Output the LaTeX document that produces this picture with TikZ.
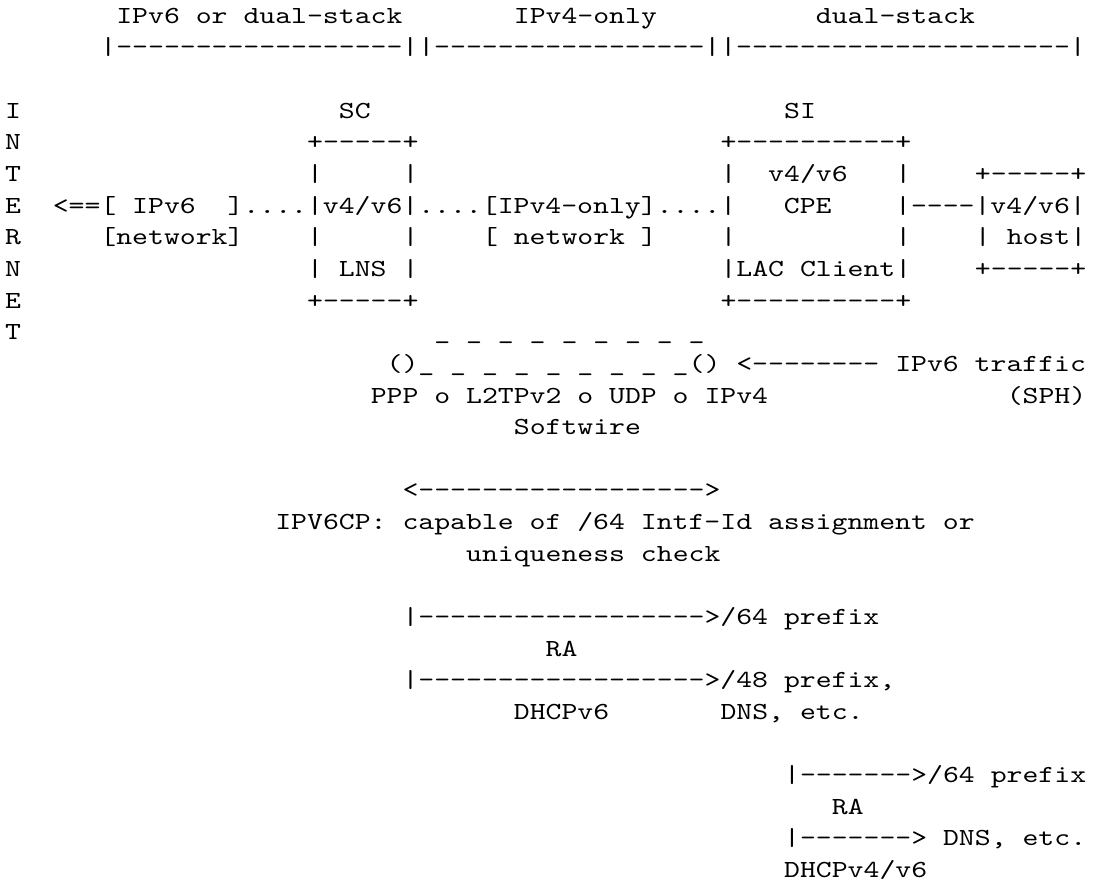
\documentclass[tikz,border=0pt]{standalone}
\usepackage{fontspec}
\newfontfamily\asciifont{lmmono10-regular.otf}[FakeStretch=1.234,Ligatures=TeXOff]
\tikzset{
  asc/.style={anchor=base west, inner sep=0pt, outer sep=0pt,
    font=\asciifont\fontsize{18.4pt}{22pt}\selectfont\frenchspacing}
}

\begin{document}
\begin{tikzpicture}[x=11.925pt,y=23.73pt]
\useasboundingbox[fill=white] (0,0) rectangle (69.56,-28);
\begin{scope}[shift={(0.3176,0.263)},every node/.style={asc}]
% zones
\node (zone6)  at (7,-1)  {IPv6 or dual-stack};
\node (zone4)  at (32,-1) {IPv4-only};
\node (zoneds) at (51,-1) {dual-stack};
\node (bars)   at (6,-2)  {|------------------||-----------------||---------------------|};
% internet
\foreach \ch [count=\i from 4] in {I,N,T,E,R,N,E,T}
  \node (inet\i) at (0,-\i) {\ch};
% boxes
\node (sc)     at (21,-4) {SC};
\node (si)     at (49,-4) {SI};
\node (scTop)  at (19,-5) {+-----+};
\node (siTop)  at (45,-5) {+----------+};
\node (scA)    at (19,-6) {|~~~~~|};
\node (siA)    at (45,-6) {|~~v4/v6~~~|};
\node (hTop)   at (61,-6) {+-----+};
\node (path)   at (3,-7)  {<==[ IPv6~~]....|v4/v6|....[IPv4-only]....|~~~CPE~~~~|----|v4/v6|};
\node (net6)   at (6,-8)  {[network]};
\node (scB)    at (19,-8) {|~~~~~|};
\node (net4)   at (30,-8) {[ network ]};
\node (siB)    at (45,-8) {|~~~~~~~~~~|};
\node (host)   at (61,-8) {| host|};
\node (lns)    at (19,-9) {| LNS |};
\node (lac)    at (45,-9) {|LAC Client|};
\node (hBot)   at (61,-9) {+-----+};
\node (scBot)  at (19,-10) {+-----+};
\node (siBot)  at (45,-10) {+----------+};
% softwire
\node (swTop)  at (27,-11) {\_~\_~\_~\_~\_~\_~\_~\_~\_};
\node (swBot)  at (24,-12) {()\_~\_~\_~\_~\_~\_~\_~\_~\_() <--------~IPv6 traffic};
\node (encap)  at (23,-13) {PPP o L2TPv2 o UDP o IPv4};
\node (sph)    at (63,-13) {(SPH)};
\node (sw)     at (32,-14) {Softwire};
% IPV6CP
\node (cpArr)  at (25,-16) {<------------------>};
\node (cpTxt)  at (17,-17) {IPV6CP: capable of /64 Intf-Id assignment or};
\node (cpTxt2) at (29,-18) {uniqueness check};
% RA / DHCPv6 towards SI
\node (ra1)    at (25,-20) {|------------------>/64 prefix};
\node (ra1l)   at (34,-21) {RA};
\node (dh1)    at (25,-22) {|------------------>/48 prefix,};
\node (dh1l)   at (32,-23) {DHCPv6};
\node (dh1t)   at (45,-23) {DNS, etc.};
% RA / DHCP towards host
\node (ra2)    at (49,-25) {|------->/64 prefix};
\node (ra2l)   at (52,-26) {RA};
\node (dh2)    at (49,-27) {|-------> DNS, etc.};
\node (dh2l)   at (49,-28) {DHCPv4/v6};
\end{scope}
\end{tikzpicture}
\end{document}
